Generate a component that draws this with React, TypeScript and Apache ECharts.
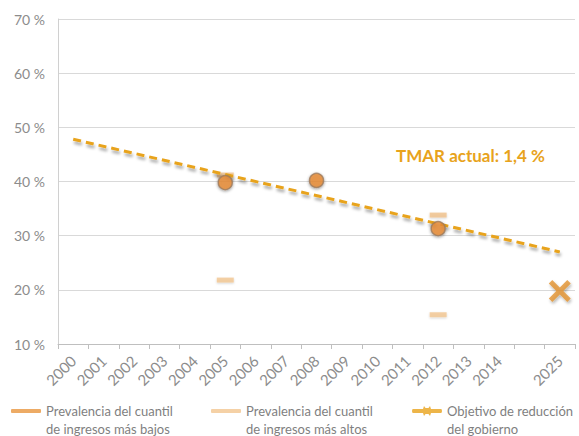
import React, { useEffect, useRef } from "react";
import * as echarts from "echarts";

const years = ["2000","2001","2002","2003","2004","2005","2006","2007","2008","2009","2010","2011","2012","2013","2014","","2025"];
const yTicks = [10, 20, 30, 40, 50, 60, 70];
const lowName = "Prevalencia del cuantil\nde ingresos más bajos";
const highName = "Prevalencia del cuantil\nde ingresos más altos";
const goalName = "Objetivo de reducción\ndel gobierno";
const lowData: [string, number][] = [["2005", 39.8], ["2008", 40.2], ["2012", 31.3]];
const highData: [string, number][] = [["2005", 21.8], ["2012", 15.4]];
const avgData: [string, number][] = [["2005", 41.2], ["2012", 33.8]];
const goalData: [string, number][] = [["2025", 19.8]];
const trendData: [string, number][] = [["2000", 47.8], ["2025", 27.0]];
const annotation = "TMAR actual: 1,4 %";

const X_PATH = "path://M0,1.6 L1.6,0 L5,3.4 L8.4,0 L10,1.6 L6.6,5 L10,8.4 L8.4,10 L5,6.6 L1.6,10 L0,8.4 L3.4,5 Z";
const GOAL_ICON = "path://M1,3 L11,3 L12,0 L13.5,2 L16.5,2 L18,0 L19,3 L29,3 Q30,3 30,5 Q30,7 29,7 L19,7 L18,10 L16.5,8 L13.5,8 L12,10 L11,7 L1,7 Q0,7 0,5 Q0,3 1,3 Z";

export default function App() {
  const ref = useRef<HTMLDivElement>(null);
  useEffect(() => {
    if (!ref.current) return;
    const chart = echarts.init(ref.current, undefined, { renderer: "svg" });
    const font = "Lato, 'Open Sans', sans-serif";
    const legendText = { color: "#7f7f7f", fontSize: 13, fontFamily: font, lineHeight: 18 };
    const fmt = (n: string) => "\n" + n;
    const legendBase = { top: 384, padding: 0, itemWidth: 30, selectedMode: false, textStyle: legendText, formatter: fmt };
    chart.setOption({
      animation: false,
      grid: { left: 58, right: 4, top: 19, bottom: 92 },
      legend: [
        { ...legendBase, left: 11, itemHeight: 4, data: [{ name: lowName, icon: "roundRect", itemStyle: { color: "#E8963E", borderWidth: 0, shadowBlur: 0 } }] },
        { ...legendBase, left: 211, itemHeight: 4, data: [{ name: highName, icon: "roundRect", itemStyle: { color: "#F3C690", borderWidth: 0, shadowBlur: 0 } }] },
        { ...legendBase, left: 412, itemHeight: 10, data: [{ name: goalName, icon: GOAL_ICON, itemStyle: { color: "#E8A31C", borderWidth: 0, shadowBlur: 0 } }] },
      ],
      xAxis: {
        type: "category",
        data: years,
        boundaryGap: true,
        axisLine: { lineStyle: { color: "#bfbfbf" } },
        axisTick: { show: true, length: 5, lineStyle: { color: "#bfbfbf" }, interval: 0 },
        axisLabel: { rotate: 45, interval: 0, color: "#8c8c8c", fontSize: 15, fontFamily: font, margin: 14 },
      },
      yAxis: {
        type: "value",
        min: yTicks[0],
        max: yTicks[yTicks.length - 1],
        interval: 10,
        axisLine: { show: true, lineStyle: { color: "#d0d0d0" } },
        axisTick: { show: false },
        splitLine: { lineStyle: { color: "#d9d9d9" } },
        axisLabel: { formatter: "{value} %", color: "#8c8c8c", fontSize: 14, fontFamily: font, margin: 13 },
      },
      series: [
        {
          name: "trend",
          type: "line",
          data: trendData,
          symbol: "none",
          lineStyle: { color: "#E8A31C", width: 3, type: [8, 5], shadowBlur: 3, shadowColor: "rgba(0,0,0,0.35)", shadowOffsetY: 3, shadowOffsetX: 1 },
          z: 3,
        },
        {
          name: "avg",
          type: "scatter",
          data: avgData,
          symbol: "rect",
          symbolSize: [17, 5],
          itemStyle: { color: "#F0C08A", shadowBlur: 2, shadowColor: "rgba(0,0,0,0.2)", shadowOffsetY: 1 },
          z: 2,
        },
        {
          name: highName,
          type: "scatter",
          data: highData,
          symbol: "rect",
          symbolSize: [17, 5],
          itemStyle: { color: "#F3C690", shadowBlur: 2, shadowColor: "rgba(0,0,0,0.2)", shadowOffsetY: 1 },
          z: 2,
        },
        {
          name: lowName,
          type: "scatter",
          data: lowData,
          symbol: "circle",
          symbolSize: 14,
          itemStyle: { color: "#EA8C32", borderColor: "#9E7A5C", borderWidth: 1.5, shadowBlur: 3, shadowColor: "rgba(0,0,0,0.45)", shadowOffsetY: 1 },
          z: 4,
        },
        {
          name: goalName,
          type: "scatter",
          data: goalData,
          symbol: X_PATH,
          symbolSize: 22,
          itemStyle: { color: "#E2922E", shadowBlur: 3, shadowColor: "rgba(0,0,0,0.35)", shadowOffsetY: 2, shadowOffsetX: 1 },
          z: 4,
        },
      ],
      graphic: [
        {
          type: "text",
          left: 396,
          top: 147,
          style: { text: annotation, fill: "#E8A31C", font: `bold 17px ${font}` },
        },
      ],
    });
    return () => chart.dispose();
  }, []);
  return <div ref={ref} style={{ width: 579, height: 436, position: "absolute", left: 0, top: 0 }} />;
}
